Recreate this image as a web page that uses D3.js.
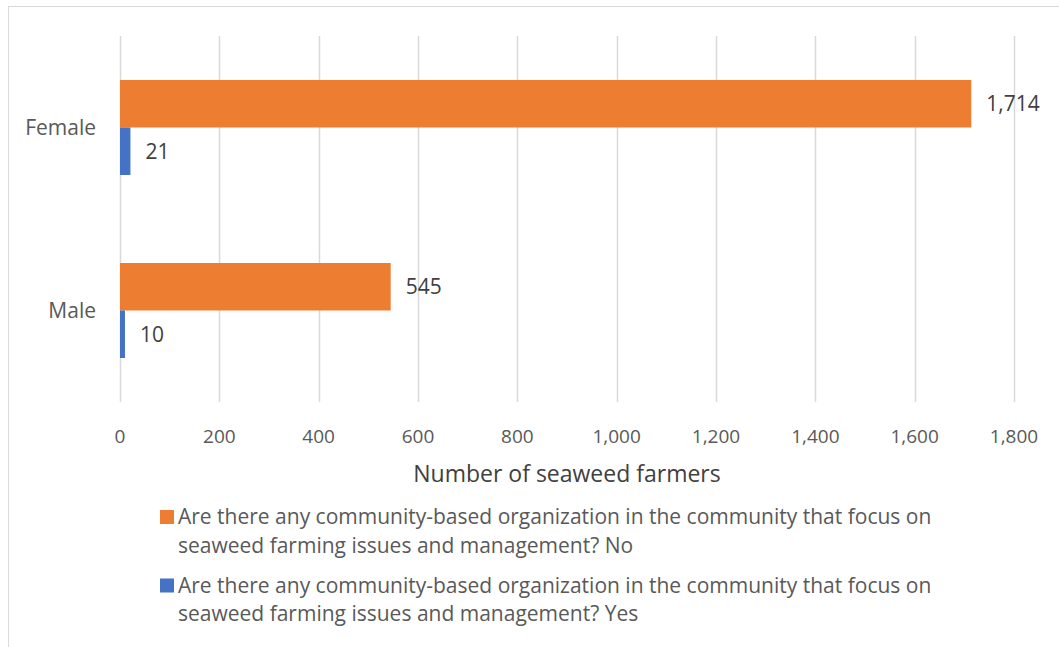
<!DOCTYPE html>
<html>
<head>
<meta charset="utf-8">
<script src="https://cdn.jsdelivr.net/npm/d3@7"></script>
<style>
  body { margin: 0; background: #fff; }
  svg { display: block; font-family: "Open Sans", "Noto Sans", sans-serif; }
</style>
</head>
<body>
<div id="chart"></div>
<script>
// Data
var categories = ["Female", "Male"];
var seriesNames = ["No", "Yes"];
var valuesNo = [1714, 545];
var valuesYes = [21, 10];
var xTicks = [0, 200, 400, 600, 800, 1000, 1200, 1400, 1600, 1800];
var legendLabels = [
  ["Are there any community-based organization in the community that focus on", "seaweed farming issues and management? No"],
  ["Are there any community-based organization in the community that focus on", "seaweed farming issues and management? Yes"]
];

function init() {
  var w = 1059, h = 647;
  var left = 120, right = 1014, top = 36, bottom = 402;
  var colors = { No: "#ED7D31", Yes: "#4472C4" };

  var svg = d3.select("#chart").append("svg")
      .attr("width", w)
      .attr("height", h);

  // Outer chart border
  svg.append("rect")
      .attr("x", 8.5).attr("y", 6.5)
      .attr("width", 1080).attr("height", 700)
      .attr("fill", "none")
      .attr("stroke", "#D9D9D9");

  var xScale = d3.scaleLinear()
      .domain([0, 1800])
      .range([left, right]);

  var yScale = d3.scaleBand()
      .domain(categories)
      .range([top, bottom])
      .paddingInner(0)
      .paddingOuter(0);

  var barH = 47.5;

  // gridlines
  svg.append("g").selectAll("line")
      .data(xTicks)
      .enter().append("line")
      .attr("x1", function(d) { return Math.round(xScale(d)) + 0.5; })
      .attr("x2", function(d) { return Math.round(xScale(d)) + 0.5; })
      .attr("y1", top)
      .attr("y2", bottom)
      .attr("stroke", "#D9D9D9")
      .attr("stroke-width", 1.5);

  // x tick labels
  svg.append("g").selectAll("text")
      .data(xTicks)
      .enter().append("text")
      .attr("x", function(d) { return xScale(d); })
      .attr("y", 443)
      .attr("text-anchor", "middle")
      .attr("fill", "#595959")
      .attr("font-size", 19)
      .text(function(d) { return d3.format(",")(d); });

  // axis title
  svg.append("text")
      .attr("x", (left + right) / 2)
      .attr("y", 482)
      .attr("text-anchor", "middle")
      .attr("fill", "#404040")
      .attr("font-size", 23)
      .text("Number of seaweed farmers");

  // category labels
  svg.append("g").selectAll("text")
      .data(categories)
      .enter().append("text")
      .attr("x", 96)
      .attr("y", function(d) { return yScale(d) + yScale.bandwidth() / 2 + 7.5; })
      .attr("text-anchor", "end")
      .attr("fill", "#595959")
      .attr("font-size", 21)
      .text(function(d) { return d; });

  // bars
  var rows = [];
  categories.forEach(function(c, i) {
    rows.push({ cat: c, series: "No", value: valuesNo[i], k: 0 });
    rows.push({ cat: c, series: "Yes", value: valuesYes[i], k: 1 });
  });

  function barY(d) {
    return yScale(d.cat) + yScale.bandwidth() / 2 - barH + d.k * barH;
  }

  svg.append("g").selectAll("rect")
      .data(rows)
      .enter().append("rect")
      .attr("x", xScale(0))
      .attr("y", barY)
      .attr("width", function(d) { return xScale(d.value) - xScale(0); })
      .attr("height", barH)
      .attr("fill", function(d) { return colors[d.series]; });

  // value labels
  svg.append("g").selectAll("text")
      .data(rows)
      .enter().append("text")
      .attr("x", function(d) { return xScale(d.value) + 15; })
      .attr("y", function(d) { return barY(d) + barH / 2 + 7.5; })
      .attr("fill", "#404040")
      .attr("font-size", 21)
      .text(function(d) { return d3.format(",")(d.value); });

  // legend
  var legend = svg.append("g").selectAll("g")
      .data(seriesNames)
      .enter().append("g")
      .attr("transform", function(d, i) { return "translate(160," + (524 + i * 68.5) + ")"; });

  legend.append("rect")
      .attr("x", 0).attr("y", -14)
      .attr("width", 14).attr("height", 14)
      .attr("fill", function(d) { return colors[d]; });

  legend.each(function(d, i) {
    var t = d3.select(this).append("text")
        .attr("fill", "#595959")
        .attr("font-size", 21);
    legendLabels[i].forEach(function(line, j) {
      t.append("tspan")
          .attr("x", 18)
          .attr("y", j * 28.5)
          .text(line);
    });
  });
}
window.onload = init;
</script>
</body>
</html>
